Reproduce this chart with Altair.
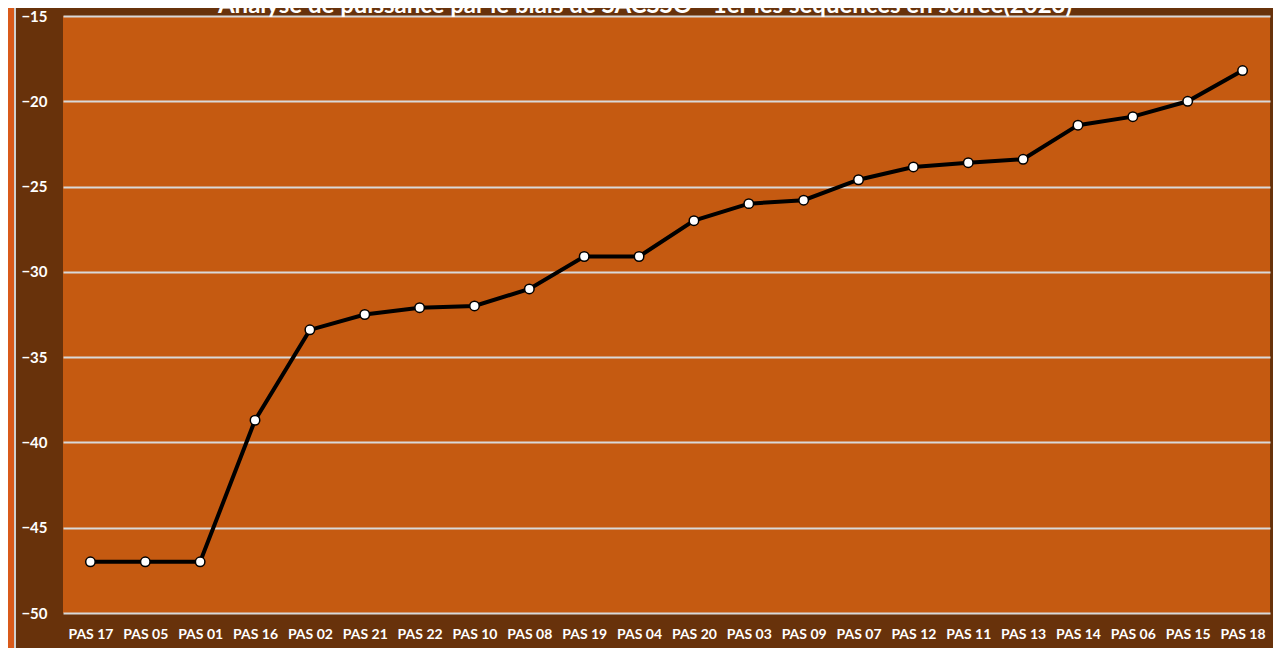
import altair as alt
import pandas as pd

categories = ["PAS 17", "PAS 05", "PAS 01", "PAS 16", "PAS 02", "PAS 21", "PAS 22", "PAS 10",
              "PAS 08", "PAS 19", "PAS 04", "PAS 20", "PAS 03", "PAS 09", "PAS 07", "PAS 12",
              "PAS 11", "PAS 13", "PAS 14", "PAS 06", "PAS 15", "PAS 18"]
values = [-47.0, -47.0, -47.0, -38.7, -33.4, -32.5, -32.1, -32.0,
          -31.0, -29.1, -29.1, -27.0, -26.0, -25.8, -24.6, -23.85,
          -23.6, -23.4, -21.4, -20.9, -20.0, -18.2]
y_ticks = [-50, -45, -40, -35, -30, -25, -20, -15]
title_text = "Analyse de puissance par le biais de SACSSO - 1er les séquences en soirée(2023)"

df = pd.DataFrame({"cat": categories, "val": values})
tdf = pd.DataFrame({"t": [title_text]})

FONT = "Lato"
BROWN = "#68320B"
PLOT = "#C55A11"

x_enc = alt.X("cat:N", sort=categories, title=None,
              scale=alt.Scale(paddingInner=1, paddingOuter=0.5),
              axis=alt.Axis(labelAngle=0, labelColor="white", labelFont=FONT, labelFontSize=14,
                            labelFontWeight="bold", labelPadding=14, ticks=False, domain=False,
                            grid=False))
y_enc = alt.Y("val:Q", title=None,
              scale=alt.Scale(domain=[-50, -15], nice=False, zero=False),
              axis=alt.Axis(values=y_ticks, labelColor="white", labelFont=FONT, labelFontSize=15,
                            labelFontWeight="bold", labelPadding=16, ticks=False, domain=False,
                            grid=True, gridColor="#D9D9D9", gridWidth=2))

base = alt.Chart(df)

strip = base.mark_rect(color="#D95A1A", clip=False).encode(
    x=alt.value(-56), x2=alt.value(-49), y=alt.value(-10), y2=alt.value(640)
)
sep = base.mark_rect(color="#D0D0D0", clip=False).encode(
    x=alt.value(-49), x2=alt.value(-47), y=alt.value(-10), y2=alt.value(640)
)

line = base.mark_line(color="black", strokeWidth=4).encode(x=x_enc, y=y_enc)
pts = base.mark_point(filled=True, fill="white", stroke="black", strokeWidth=1.5,
                      size=90, opacity=1).encode(x=x_enc, y=y_enc)

title = alt.Chart(tdf).mark_text(
    color="white", font=FONT, fontSize=24, fontWeight="bold",
    align="center", baseline="alphabetic", clip=False
).encode(text="t:N", x=alt.value(582), y=alt.value(-3))

chart = alt.layer(strip, sep, title, line, pts).properties(
    width=1207, height=597,
    autosize=alt.AutoSizeParams(type="none"),
    padding={"left": 55, "top": 8, "right": 3, "bottom": 35},
    background=BROWN,
).configure_view(fill=PLOT, stroke=None)

chart.save("out.html", embed_options={"renderer": "svg", "actions": False})
